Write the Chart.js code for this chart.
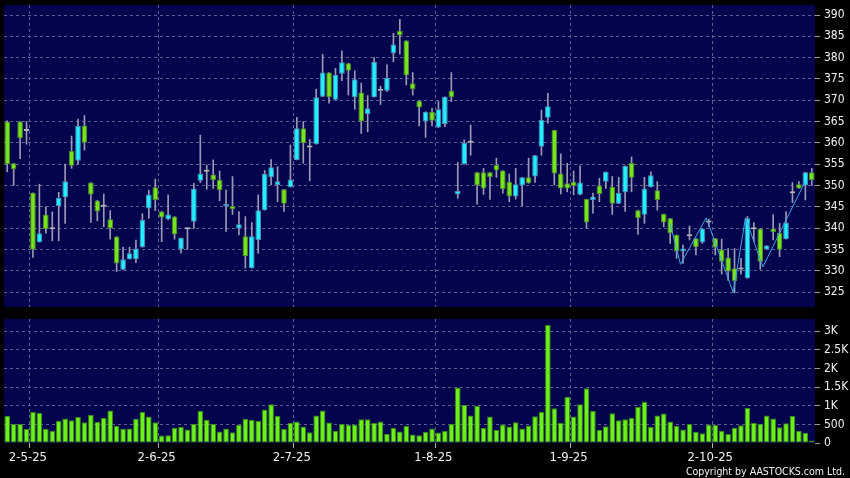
<!DOCTYPE html>
<html>
<head>
<meta charset="utf-8">
<script src="https://cdn.jsdelivr.net/npm/chart.js@4.4.1/dist/chart.umd.min.js"></script>
<style>
    html, body { margin: 0; padding: 0; background: #000; }
    .wrap { position: relative; width: 850px; height: 478px; overflow: hidden; background: #000; }
    #priceChart { position: absolute; left: 0; top: 0; }
    #volumeChart { position: absolute; left: 0; top: 310px; }
    .copyright {
        position: absolute; right: 5px; top: 465px;
        color: #f0f0f0; line-height: 13px; white-space: nowrap;
        font: 10.5px 'DejaVu Sans Condensed', 'Liberation Sans', sans-serif;
    }
</style>
</head>
<body>
<div class="wrap">
    <canvas id="priceChart" width="850" height="310"></canvas>
    <canvas id="volumeChart" width="850" height="168"></canvas>
    <div class="copyright">Copyright by AASTOCKS.com Ltd.</div>
</div>
<script>
/* Dados do gráfico */
const opens = [365, 355.2, 365, 362.8, 348.3, 336.7, 343.2, 339.7, 345.2, 347.2,
    358.1, 355.8, 364.1, 350.7, 346.5, 345, 342.1, 338, 330.2, 332.7,
    332.7, 335.5, 344.6, 349.6, 343.9, 342.1, 342.7, 335, 339.7, 341.5,
    351.1, 353.2, 352.6, 351.3, 345.2, 345.2, 339.9, 338.1, 330.6, 337.2,
    344.2, 351.9, 350.1, 349.1, 349.6, 356, 363.4, 358.9, 359.7, 370.8,
    376.5, 370.1, 376.2, 378.7, 370.7, 371.8, 366.7, 370.7, 372.2, 372.2,
    381, 386.3, 384, 374, 369.9, 365, 367.3, 363.6, 364.4, 372.2,
    347.9, 355, 360, 353.1, 353.1, 353.1, 354.8, 353.5, 350.9, 347.4,
    350, 351.9, 352.1, 359.1, 365.9, 363, 352.8, 350.5, 350.9, 347.8,
    346.8, 346.6, 350, 350.9, 349.7, 345.7, 348.4, 355.3, 344.2, 343.1,
    349.6, 348.9, 343.3, 342.3, 338.4, 334.5, 338.1, 337.6, 336.6, 341.3,
    337.6, 335, 333.1, 330.6, 330.3, 328.2, 339.7, 339.9, 335, 339.9,
    338.9, 337.4, 348.2, 350.3, 350, 353.1]

const highs = [365.2, 355.2, 365, 365, 348.3, 350.3, 345, 343.8, 348.4, 355,
    361.6, 365.6, 366.4, 350.7, 346.5, 348, 344.1, 338, 335.5, 335.5,
    337.2, 343.4, 348.9, 351.5, 343.9, 347.8, 342.7, 337.7, 340, 350.5,
    361.8, 354.8, 356, 353.4, 348.9, 352.1, 343.9, 342.7, 341.3, 347.8,
    353.5, 356.1, 354.4, 349.1, 359.5, 366, 365, 360.8, 372.6, 380.8,
    376.5, 377.5, 381.6, 378.7, 376.9, 374, 371.1, 380, 373.3, 378.3,
    385.7, 389, 384, 376.5, 369.9, 367.3, 368.1, 369.7, 370.8, 376.5,
    355.4, 360.7, 364.2, 353.1, 354, 353.1, 356.4, 353.5, 352.7, 354,
    351.9, 356.4, 357.1, 367.7, 371.6, 363, 357.4, 355.2, 353.4, 354.6,
    346.8, 348.2, 351.7, 353.2, 352.1, 351.9, 354.6, 356.7, 344.2, 351.9,
    353.2, 350.9, 343.3, 342.3, 338.4, 336, 340.5, 337.6, 339.9, 342.1,
    337.6, 337.4, 335.2, 335.2, 332.9, 342.7, 341.3, 339.9, 335.9, 343.1,
    341.1, 343.9, 350.7, 350.9, 353.1, 354]

const lows = [353.2, 350, 356.3, 359.7, 333.1, 336.7, 338.8, 337, 337, 341.1,
    354, 355, 358.3, 341.3, 341.7, 340.3, 337.4, 329.8, 330.2, 332.7,
    331.9, 335.5, 342.3, 344.1, 336.8, 341.9, 337.4, 334.1, 335, 339.9,
    350.7, 349.1, 349.3, 346.4, 339.2, 343.2, 338.4, 330.6, 330.6, 334.1,
    344.2, 350.1, 346.2, 343.9, 349.6, 356, 355.2, 351.1, 359.7, 370.8,
    369.3, 370.1, 374.6, 371.2, 367.9, 362.2, 362.6, 370.7, 369, 372,
    379, 380.8, 373.6, 371.2, 364, 361.3, 364, 363.6, 363.8, 369.7,
    347, 355, 357.1, 345.6, 347.9, 346.7, 351.9, 348.2, 346.2, 346.8,
    345.2, 350.5, 350.7, 357.1, 364.6, 350.1, 348, 348.5, 347.8, 347.8,
    339.9, 343.5, 346.2, 349.3, 343.2, 345.7, 343.9, 348.5, 338.5, 341.1,
    349.6, 344.2, 340.3, 336.4, 332.9, 331.7, 337.2, 333.7, 336.4, 340.4,
    333.7, 329.2, 327.7, 324.8, 329.2, 328.2, 336.8, 330.3, 335, 337.2,
    333.3, 337.4, 346, 349.3, 346.6, 350]

const closes = [355, 353.8, 361.1, 362.8, 334.9, 338.8, 339.7, 339.7, 347.1, 351,
    354.6, 364, 360, 347.9, 343.9, 345, 339.9, 331.7, 332.7, 334.1,
    335.2, 341.9, 347.9, 346.6, 342.5, 343.2, 338.5, 337.7, 339.7, 349.3,
    352.8, 353.2, 351.3, 348.9, 345.7, 344.4, 340.9, 333.4, 338.1, 344.2,
    352.7, 354.3, 351, 345.7, 351.4, 363.4, 359.9, 358.9, 370.7, 376.5,
    370.7, 375.9, 378.9, 376.9, 374.9, 365, 368.1, 379, 372.2, 375.3,
    383.1, 385.2, 375.8, 372.6, 368.3, 367.3, 365.2, 367.9, 370.8, 370.7,
    348.7, 360, 360, 350, 349.3, 351.9, 353.5, 349.1, 347.4, 350.3,
    351.9, 350.5, 357.1, 365.4, 368.6, 352.8, 349.3, 349.3, 349.9, 350.7,
    341.3, 347.4, 348, 353.2, 345.7, 348.3, 354.6, 351.8, 342.3, 349.3,
    352.4, 346.6, 341.3, 338.8, 334.5, 335.2, 338.1, 335.5, 339.9, 341.3,
    335.5, 332.1, 329.8, 327.6, 330.3, 342.3, 339.7, 332.1, 335.9, 339,
    334.9, 341.3, 348.2, 349.3, 353.1, 351.3]

const volumes = [730, 510, 510, 375, 830, 810, 380, 320, 600, 660,
    610, 700, 560, 760, 570, 670, 875, 460, 380, 390,
    650, 830, 710, 560, 200, 210, 410, 430, 360, 510,
    860, 620, 510, 310, 390, 290, 490, 650, 620, 600,
    900, 1040, 730, 380, 540, 580, 440, 290, 740, 870,
    550, 330, 510, 490, 500, 640, 640, 540, 580, 240,
    400, 310, 460, 230, 210, 300, 390, 280, 320, 520,
    1490, 1020, 740, 1000, 400, 710, 350, 500, 440, 560,
    390, 470, 720, 830, 3170, 930, 540, 1240, 710, 1040,
    1470, 860, 350, 450, 800, 610, 640, 680, 970, 1110,
    430, 740, 790, 580, 460, 360, 510, 300, 260, 500,
    490, 330, 240, 410, 480, 940, 540, 520, 740, 660,
    420, 530, 730, 330, 270, 70]

// linha fina azul (zigue-zague) no fim do período
const trendX = [103, 104.6, 108.6, 112.8, 114.7, 117.4, 124]
const trendY = [341, 331.5, 342.4, 324.9, 342.4, 330.9, 351]

// início de cada mês e o texto do eixo
const monthStarts = [4, 24, 45, 67, 88, 110]
const monthLabels = ['2-5-25', '2-6-25', '2-7-25', '1-8-25', '1-9-25', '2-10-25']

const days = opens.map((_, i) => String(i))

const upColor = '#22eeff'
const upBorder = '#4d8fb6'
const downColor = '#76e41c'
const downBorder = '#4e8c22'
const flatColor = '#b4b4b4'
const wickColor = '#9a9ab2'
const gridColor = '#5d5d92'
const plotBg = '#03034e'
const textColor = '#f0f0f0'
const axisFont = "'DejaVu Sans Condensed', 'Liberation Sans', sans-serif"

function candleColor(i, up, down) {
    if (closes[i] > opens[i]) return up
    if (closes[i] < opens[i]) return down
    return flatColor
}

function isMonthStart(ctx) {
    return monthStarts.includes(ctx.index)
}

function monthLabel(index) {
    const k = monthStarts.indexOf(index)
    return k >= 0 ? monthLabels[k] : ''
}

// volume em milhares: 0.5 -> "500", 1.5 -> "1.5K"
function volumeLabel(v) {
    if (v === 0) return '0'
    if (v < 1) return String(Math.round(v * 1000))
    return v + 'K'
}

function fixWidth(w) {
    return (scale) => {
        scale.width = w
        scale.paddingTop = 0
        scale.paddingBottom = 0
    }
}

function fixHeight(h) {
    return (scale) => {
        scale.height = h
        scale.paddingLeft = 0
        scale.paddingRight = 0
    }
}

// fundo azul escuro da área do gráfico
const plotBackground = {
    id: 'plotBackground',
    beforeDraw(chart) {
        const { ctx, chartArea } = chart
        ctx.save()
        ctx.fillStyle = plotBg
        ctx.fillRect(chartArea.left, chartArea.top, chartArea.width, chartArea.height)
        ctx.restore()
    }
}

/* Gráfico de preços (velas) */
new Chart(document.getElementById('priceChart'), {
    type: 'bar',
    data: {
        labels: days,
        datasets: [
            {
                type: 'line',
                xAxisID: 'xLine',
                data: trendX.map((x, i) => ({ x: x, y: trendY[i] })),
                borderColor: '#3fa2e6',
                borderWidth: 1,
                pointRadius: 0,
                tension: 0,
                order: 0
            },
            {
                data: opens.map((o, i) => [o, closes[i]]),
                backgroundColor: (ctx) => candleColor(ctx.dataIndex, upColor, downColor),
                borderColor: (ctx) => candleColor(ctx.dataIndex, upBorder, downBorder),
                borderWidth: 1,
                borderSkipped: false,
                minBarLength: 2,
                grouped: false,
                barPercentage: 0.88,
                categoryPercentage: 1,
                order: 1
            },
            {
                data: lows.map((l, i) => [l, highs[i]]),
                backgroundColor: wickColor,
                barThickness: 1,
                grouped: false,
                order: 2
            }
        ]
    },
    options: {
        responsive: false,
        animation: false,
        devicePixelRatio: 1,
        layout: { padding: { left: 4, top: 5, right: 0, bottom: 0 } },
        plugins: { legend: { display: false }, tooltip: { enabled: false } },
        scales: {
            x: {
                offset: true,
                grid: {
                    offset: true,
                    color: (ctx) => isMonthStart(ctx) ? gridColor : 'transparent',
                    drawTicks: false
                },
                border: { display: false, dash: [3, 3] },
                ticks: { display: false, autoSkip: false },
                afterFit: fixHeight(3)
            },
            xLine: {
                type: 'linear',
                display: false,
                offset: false,
                grid: { offset: false },
                min: -0.5,
                max: 125.5
            },
            y: {
                position: 'right',
                min: 321.48,
                max: 392.35,
                grid: { color: gridColor, tickColor: '#9a9a9a', tickLength: 5 },
                border: { display: false, dash: [3, 3] },
                ticks: {
                    stepSize: 5,
                    includeBounds: false,
                    padding: 4,
                    color: textColor,
                    font: { family: axisFont, size: 12 }
                },
                afterFit: fixWidth(35)
            }
        }
    },
    plugins: [plotBackground]
})

/* Gráfico de volume */
new Chart(document.getElementById('volumeChart'), {
    type: 'bar',
    data: {
        labels: days,
        datasets: [{
            data: volumes.map((v) => v / 1000),
            backgroundColor: '#6cf01a',
            borderColor: '#3a8a10',
            borderWidth: 1,
            borderSkipped: false,
            barPercentage: 0.88,
            categoryPercentage: 1
        }]
    },
    options: {
        responsive: false,
        animation: false,
        devicePixelRatio: 1,
        layout: { padding: { left: 4, top: 9, right: 0, bottom: 0 } },
        plugins: { legend: { display: false }, tooltip: { enabled: false } },
        scales: {
            x: {
                offset: true,
                grid: {
                    offset: true,
                    color: (ctx) => isMonthStart(ctx) ? gridColor : 'transparent',
                    tickColor: (ctx) => isMonthStart(ctx) ? '#b0b0b0' : 'transparent',
                    tickLength: 5
                },
                border: { display: false, dash: [3, 3] },
                ticks: {
                    autoSkip: false,
                    maxRotation: 0,
                    labelOffset: -5,
                    padding: 2,
                    color: textColor,
                    font: { family: axisFont, size: 13 },
                    callback: (value, index) => monthLabel(index)
                },
                afterFit: fixHeight(35)
            },
            y: {
                position: 'right',
                min: 0,
                max: 3.33,
                grid: {
                    color: (ctx) => ctx.tick && ctx.tick.value === 0 ? 'transparent' : gridColor,
                    tickColor: '#9a9a9a',
                    tickLength: 5
                },
                border: { display: false, dash: [3, 3] },
                ticks: {
                    stepSize: 0.5,
                    includeBounds: false,
                    padding: 4,
                    color: textColor,
                    font: { family: axisFont, size: 12 },
                    callback: volumeLabel
                },
                afterFit: fixWidth(35)
            }
        }
    },
    plugins: [plotBackground]
})
</script>
</body>
</html>
